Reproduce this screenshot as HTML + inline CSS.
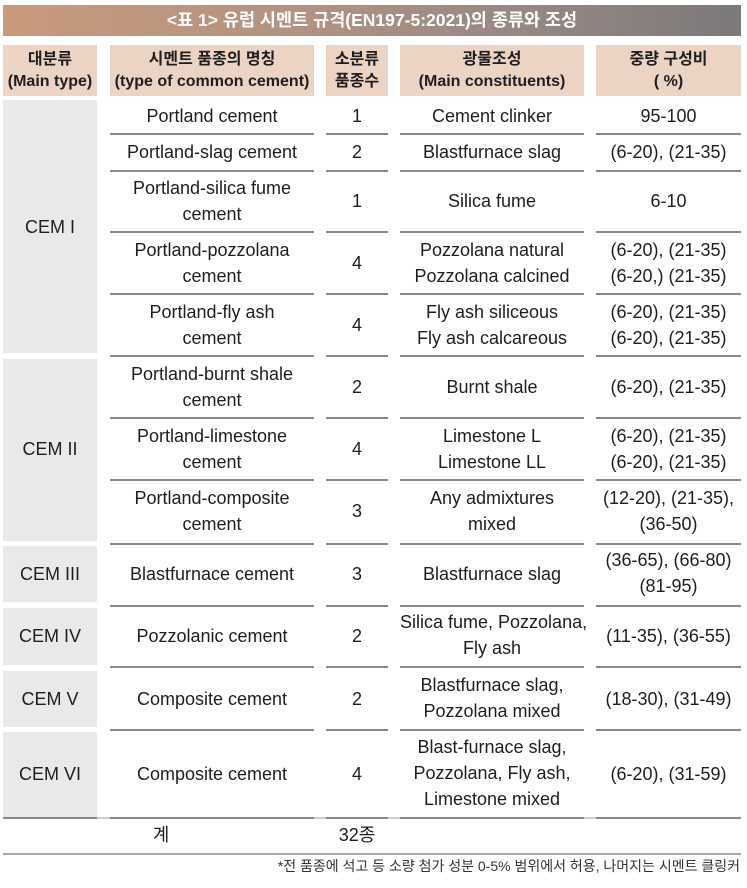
<!DOCTYPE html>
<html>
<head>
<meta charset="utf-8">
<style>
  html,body{margin:0;padding:0;background:#fff;}
  body{width:747px;height:888px;position:relative;overflow:hidden;
    font-family:"Liberation Sans","Noto Sans CJK KR",sans-serif;color:#1e1e1e;}
  .abs{position:absolute;}
  .title{left:3px;top:5px;width:738px;height:31px;
    background:linear-gradient(to right,#c99a7b 0%,#b39282 40%,#978883 70%,#7c7979 100%);
    color:#fff;font-weight:bold;font-size:17.5px;line-height:31px;text-align:center;}
  .hd{top:45px;height:51px;background:#ecd4c5;text-align:center;font-weight:bold;font-size:16px;}
  .hd .l{position:absolute;left:0;right:0;line-height:21px;}
  .hd .k{font-size:16px;}
  .gbox{background:#e9e9e9;left:3px;width:94px;}
  .t{position:absolute;text-align:center;font-size:18px;line-height:26px;white-space:nowrap;}
  .ln{position:absolute;height:1.5px;background:#8a8a8a;}
</style>
</head>
<body>
<div class="abs title">&lt;표 1&gt; 유럽 시멘트 규격(EN197-5:2021)의 종류와 조성</div>

<!-- header -->
<div class="abs hd" style="left:3px;width:94px;"><div class="l k" style="top:4px;">대분류</div><div class="l" style="top:26px;">(Main type)</div></div>
<div class="abs hd" style="left:110px;width:204px;"><div class="l k" style="top:4px;">시멘트 품종의 명칭</div><div class="l" style="top:26px;">(type of common cement)</div></div>
<div class="abs hd" style="left:326px;width:62px;"><div class="l k" style="top:4px;">소분류</div><div class="l k" style="top:26px;">품종수</div></div>
<div class="abs hd" style="left:400px;width:184px;"><div class="l k" style="top:4px;">광물조성</div><div class="l" style="top:26px;">(Main constituents)</div></div>
<div class="abs hd" style="left:596px;width:145px;"><div class="l k" style="top:4px;">중량 구성비</div><div class="l" style="top:26px;">( %)</div></div>

<!-- gray boxes col1 -->
<div class="abs gbox" style="top:100px;height:253px;"></div>
<div class="abs gbox" style="top:359px;height:182px;"></div>
<div class="abs gbox" style="top:546px;height:56px;"></div>
<div class="abs gbox" style="top:608px;height:57px;"></div>
<div class="abs gbox" style="top:671px;height:56px;"></div>
<div class="abs gbox" style="top:732px;height:85px;"></div>

<div class="t" style="left:3px;width:94px;top:214px;">CEM I</div>
<div class="t" style="left:3px;width:94px;top:436px;">CEM II</div>
<div class="t" style="left:3px;width:94px;top:561px;">CEM III</div>
<div class="t" style="left:3px;width:94px;top:623px;">CEM IV</div>
<div class="t" style="left:3px;width:94px;top:686px;">CEM V</div>
<div class="t" style="left:3px;width:94px;top:761px;">CEM VI</div>

<!-- row lines cols 2-5 -->
<div class="ln" style="left:110px;width:204px;top:133px;"></div><div class="ln" style="left:326px;width:62px;top:133px;"></div><div class="ln" style="left:400px;width:184px;top:133px;"></div><div class="ln" style="left:596px;width:145px;top:133px;"></div>
<div class="ln" style="left:110px;width:204px;top:170px;"></div><div class="ln" style="left:326px;width:62px;top:170px;"></div><div class="ln" style="left:400px;width:184px;top:170px;"></div><div class="ln" style="left:596px;width:145px;top:170px;"></div>
<div class="ln" style="left:110px;width:204px;top:231px;"></div><div class="ln" style="left:326px;width:62px;top:231px;"></div><div class="ln" style="left:400px;width:184px;top:231px;"></div><div class="ln" style="left:596px;width:145px;top:231px;"></div>
<div class="ln" style="left:110px;width:204px;top:293px;"></div><div class="ln" style="left:326px;width:62px;top:293px;"></div><div class="ln" style="left:400px;width:184px;top:293px;"></div><div class="ln" style="left:596px;width:145px;top:293px;"></div>
<div class="ln" style="left:110px;width:204px;top:355px;"></div><div class="ln" style="left:326px;width:62px;top:355px;"></div><div class="ln" style="left:400px;width:184px;top:355px;"></div><div class="ln" style="left:596px;width:145px;top:355px;"></div>
<div class="ln" style="left:110px;width:204px;top:417px;"></div><div class="ln" style="left:326px;width:62px;top:417px;"></div><div class="ln" style="left:400px;width:184px;top:417px;"></div><div class="ln" style="left:596px;width:145px;top:417px;"></div>
<div class="ln" style="left:110px;width:204px;top:479px;"></div><div class="ln" style="left:326px;width:62px;top:479px;"></div><div class="ln" style="left:400px;width:184px;top:479px;"></div><div class="ln" style="left:596px;width:145px;top:479px;"></div>
<div class="ln" style="left:110px;width:204px;top:543px;"></div><div class="ln" style="left:326px;width:62px;top:543px;"></div><div class="ln" style="left:400px;width:184px;top:543px;"></div><div class="ln" style="left:596px;width:145px;top:543px;"></div>
<div class="ln" style="left:110px;width:204px;top:605px;"></div><div class="ln" style="left:326px;width:62px;top:605px;"></div><div class="ln" style="left:400px;width:184px;top:605px;"></div><div class="ln" style="left:596px;width:145px;top:605px;"></div>
<div class="ln" style="left:110px;width:204px;top:666px;"></div><div class="ln" style="left:326px;width:62px;top:666px;"></div><div class="ln" style="left:400px;width:184px;top:666px;"></div><div class="ln" style="left:596px;width:145px;top:666px;"></div>
<div class="ln" style="left:110px;width:204px;top:729px;"></div><div class="ln" style="left:326px;width:62px;top:729px;"></div><div class="ln" style="left:400px;width:184px;top:729px;"></div><div class="ln" style="left:596px;width:145px;top:729px;"></div>
<!-- line under last row -->
<div class="ln" style="left:3px;width:738px;top:817px;background:#cfcfcf;"></div>
<div class="ln" style="left:3px;width:94px;top:817px;"></div><div class="ln" style="left:110px;width:204px;top:817px;"></div><div class="ln" style="left:326px;width:62px;top:817px;"></div><div class="ln" style="left:400px;width:184px;top:817px;"></div><div class="ln" style="left:596px;width:145px;top:817px;"></div>
<!-- bottom line -->
<div class="ln" style="left:3px;width:738px;top:853px;background:#ababab;"></div>

<!-- col2 -->
<div class="t" style="left:110px;width:204px;top:103px;">Portland cement</div>
<div class="t" style="left:110px;width:204px;top:139px;">Portland-slag cement</div>
<div class="t" style="left:110px;width:204px;top:175px;">Portland-silica fume<br>cement</div>
<div class="t" style="left:110px;width:204px;top:237px;">Portland-pozzolana<br>cement</div>
<div class="t" style="left:110px;width:204px;top:299px;">Portland-fly ash<br>cement</div>
<div class="t" style="left:110px;width:204px;top:361px;">Portland-burnt shale<br>cement</div>
<div class="t" style="left:110px;width:204px;top:423px;">Portland-limestone<br>cement</div>
<div class="t" style="left:110px;width:204px;top:485px;">Portland-composite<br>cement</div>
<div class="t" style="left:110px;width:204px;top:561px;">Blastfurnace cement</div>
<div class="t" style="left:110px;width:204px;top:623px;">Pozzolanic cement</div>
<div class="t" style="left:110px;width:204px;top:686px;">Composite cement</div>
<div class="t" style="left:110px;width:204px;top:761px;">Composite cement</div>

<!-- col3 -->
<div class="t" style="left:326px;width:62px;top:103px;">1</div>
<div class="t" style="left:326px;width:62px;top:139px;">2</div>
<div class="t" style="left:326px;width:62px;top:188px;">1</div>
<div class="t" style="left:326px;width:62px;top:250px;">4</div>
<div class="t" style="left:326px;width:62px;top:312px;">4</div>
<div class="t" style="left:326px;width:62px;top:374px;">2</div>
<div class="t" style="left:326px;width:62px;top:436px;">4</div>
<div class="t" style="left:326px;width:62px;top:498px;">3</div>
<div class="t" style="left:326px;width:62px;top:561px;">3</div>
<div class="t" style="left:326px;width:62px;top:623px;">2</div>
<div class="t" style="left:326px;width:62px;top:686px;">2</div>
<div class="t" style="left:326px;width:62px;top:761px;">4</div>

<!-- col4 -->
<div class="t" style="left:400px;width:184px;top:103px;">Cement clinker</div>
<div class="t" style="left:400px;width:184px;top:139px;">Blastfurnace slag</div>
<div class="t" style="left:400px;width:184px;top:188px;">Silica fume</div>
<div class="t" style="left:400px;width:184px;top:237px;">Pozzolana natural<br>Pozzolana calcined</div>
<div class="t" style="left:400px;width:184px;top:299px;">Fly ash siliceous<br>Fly ash calcareous</div>
<div class="t" style="left:400px;width:184px;top:374px;">Burnt shale</div>
<div class="t" style="left:400px;width:184px;top:423px;">Limestone L<br>Limestone LL</div>
<div class="t" style="left:400px;width:184px;top:485px;">Any admixtures<br>mixed</div>
<div class="t" style="left:400px;width:184px;top:561px;">Blastfurnace slag</div>
<div class="t" style="left:400px;width:184px;top:609px;">Silica fume, Pozzolana,<br>Fly ash</div>
<div class="t" style="left:400px;width:184px;top:672px;">Blastfurnace slag,<br>Pozzolana mixed</div>
<div class="t" style="left:400px;width:184px;top:734px;">Blast-furnace slag,<br>Pozzolana, Fly ash,<br>Limestone mixed</div>

<!-- col5 -->
<div class="t" style="left:596px;width:145px;top:103px;">95-100</div>
<div class="t" style="left:596px;width:145px;top:139px;">(6-20), (21-35)</div>
<div class="t" style="left:596px;width:145px;top:188px;">6-10</div>
<div class="t" style="left:596px;width:145px;top:237px;">(6-20), (21-35)<br>(6-20,) (21-35)</div>
<div class="t" style="left:596px;width:145px;top:299px;">(6-20), (21-35)<br>(6-20), (21-35)</div>
<div class="t" style="left:596px;width:145px;top:374px;">(6-20), (21-35)</div>
<div class="t" style="left:596px;width:145px;top:423px;">(6-20), (21-35)<br>(6-20), (21-35)</div>
<div class="t" style="left:596px;width:145px;top:485px;">(12-20), (21-35),<br>(36-50)</div>
<div class="t" style="left:596px;width:145px;top:547px;">(36-65), (66-80)<br>(81-95)</div>
<div class="t" style="left:596px;width:145px;top:623px;">(11-35), (36-55)</div>
<div class="t" style="left:596px;width:145px;top:686px;">(18-30), (31-49)</div>
<div class="t" style="left:596px;width:145px;top:761px;">(6-20), (31-59)</div>

<!-- total row -->
<div class="t" style="left:110px;width:102px;top:822px;">계</div>
<div class="t" style="left:326px;width:62px;top:822px;">32종</div>

<!-- footnote -->
<div class="abs" style="right:7px;top:856px;font-size:14px;line-height:20px;color:#333;white-space:nowrap;">*전 품종에 석고 등 소량 첨가 성분 0-5% 범위에서 허용, 나머지는 시멘트 클링커</div>
</body>
</html>
